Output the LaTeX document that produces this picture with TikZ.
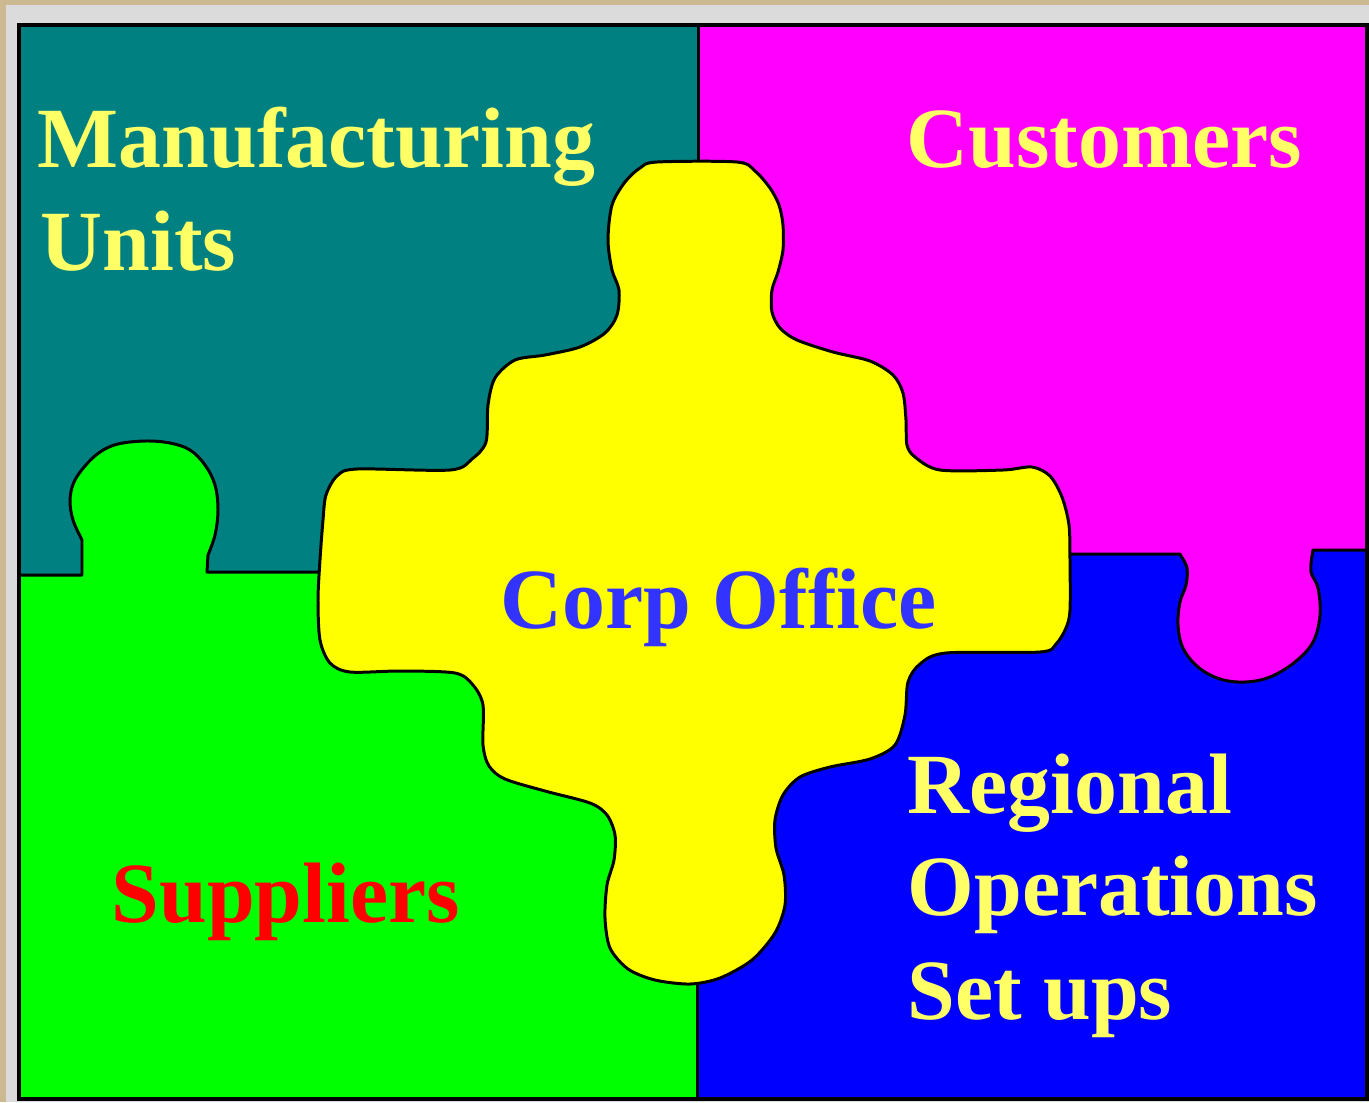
\documentclass[tikz,border=0pt]{standalone}
\usepackage{fontspec}
\setmainfont{Liberation Serif}
\usepackage{tikz}
\definecolor{cadre}{rgb}{0.80, 0.72, 0.57}
\definecolor{grisclair}{rgb}{0.86, 0.86, 0.86}
\definecolor{sarcelle}{rgb}{0, 0.5, 0.5}
\definecolor{magenta2}{rgb}{1, 0, 1}
\definecolor{vert}{rgb}{0, 1, 0}
\definecolor{bleu}{rgb}{0, 0, 1}
\definecolor{jaune}{rgb}{1, 1, 0}
\definecolor{textejaune}{rgb}{1, 1, 0.4}
\definecolor{textebleu}{rgb}{0.2, 0.2, 1}
\definecolor{texterouge}{rgb}{1, 0, 0}

\begin{document}
\begin{tikzpicture}[x=0.01cm, y=-0.01cm]
	\tikzstyle{bord}=[draw=black, line width=0.85pt, line join=round]
	\tikzstyle{titre}=[anchor=base west, inner sep=0pt, font=\fontsize{24.4}{29}\selectfont\bfseries]

	% FOND
	\fill[cadre] (0,0) rectangle (1369,1102);
	\fill[grisclair] (6,5) rectangle (1369,1102);
	\useasboundingbox (0,0) rectangle (1369,1102);

	% QUARTIERS
	\fill[sarcelle] (19,25) rectangle (698,600);
	\fill[magenta2] (698,25) rectangle (1367,700);
	\fill[vert] (19,1099) -- (19,575) -- (82,575)
		-- plot[smooth, tension=0.6] coordinates {(82,540) (73,520) (70,500) (74,482) (85,466) (100,452) (118,444) (145,441) (170,443) (190,450) (205,465) (215,485) (218,510) (215,535) (208,555)}
		-- (207,572) -- (697,572) -- (697,1099) -- cycle;
	\fill[bleu] (697,554) -- (1180,554)
		-- plot[smooth, tension=0.6] coordinates {(1181,556) (1187,568) (1186,585) (1180,602) (1178,625) (1183,648) (1198,667) (1220,679) (1245,682) (1270,677) (1295,662) (1313,642) (1320,615) (1318,588) (1311,572) (1312,556)}
		-- (1313,550) -- (1367,550) -- (1367,1099) -- (697,1099) -- cycle;

	% FRONTIERES
	\draw[bord] (19,575) -- (82,575)
		-- plot[smooth, tension=0.6] coordinates {(82,540) (73,520) (70,500) (74,482) (85,466) (100,452) (118,444) (145,441) (170,443) (190,450) (205,465) (215,485) (218,510) (215,535) (208,555)}
		-- (207,572) -- (330,572);
	\draw[bord] (1060,554) -- (1180,554)
		-- plot[smooth, tension=0.6] coordinates {(1181,556) (1187,568) (1186,585) (1180,602) (1178,625) (1183,648) (1198,667) (1220,679) (1245,682) (1270,677) (1295,662) (1313,642) (1320,615) (1318,588) (1311,572) (1312,556)}
		-- (1313,550) -- (1367,550);
	\draw[bord] (698,25) -- (698,170);
	\draw[bord] (697,975) -- (697,1099);

	% PIECE CENTRALE
	\draw[bord, fill=jaune] plot[smooth cycle, tension=0.5] coordinates {
		(657,162) (737,162) (755,171) (770,188) (779,205) (783,225) (783,250) (778,272)
		(772,290) (772,312) (780,328) (797,340) (833,352) (870,361) (893,375) (903,393)
		(906,420) (907,445) (915,457) (940,470) (1003,470) (1032,467) (1050,476) (1062,497)
		(1069,525) (1070,560) (1070,610) (1066,628) (1056,644) (1040,652) (946,653) (920,664) (908,682)
		(905,715) (895,745) (870,759) (830,767) (800,777) (783,795) (775,820) (776,848)
		(784,875) (785,905) (775,933) (752,960) (720,978) (690,984) (655,980) (628,969)
		(610,948) (605,918) (607,885) (614,860) (615,835) (607,815) (590,803) (545,791)
		(505,779) (489,766) (483,745) (483,705) (473,685) (455,673) (400,671) (350,672)
		(330,663) (320,640) (318,600) (320,560) (323,520) (326,495) (337,476) (357,469)
		(450,470) (472,459) (486,442) (488,405) (495,378) (515,360) (545,355) (580,347)
		(605,333) (617,315) (619,290) (612,270) (608,240) (612,205) (625,182) (640,168)};

	% CADRE
	\draw[line width=1.1pt] (19,25) rectangle (1367,1099);

	% TEXTES
	\node[titre, text=textejaune] (manuf) at (37,167) {Manufacturing};
	\node[titre, text=textejaune] (units) at (40,270) {Units};
	\node[titre, text=textejaune] (clients) at (906,167) {Customers};
	\node[titre, text=textebleu] (corp) at (500,628) {Corp Office};
	\node[titre, text=texterouge] (fourn) at (111,922) {Suppliers};
	\node[titre, text=textejaune] (regional) at (907,813) {Regional};
	\node[titre, text=textejaune] (operations) at (907,915) {Operations};
	\node[titre, text=textejaune] (setups) at (907,1019) {Set ups};
\end{tikzpicture}
\end{document}
